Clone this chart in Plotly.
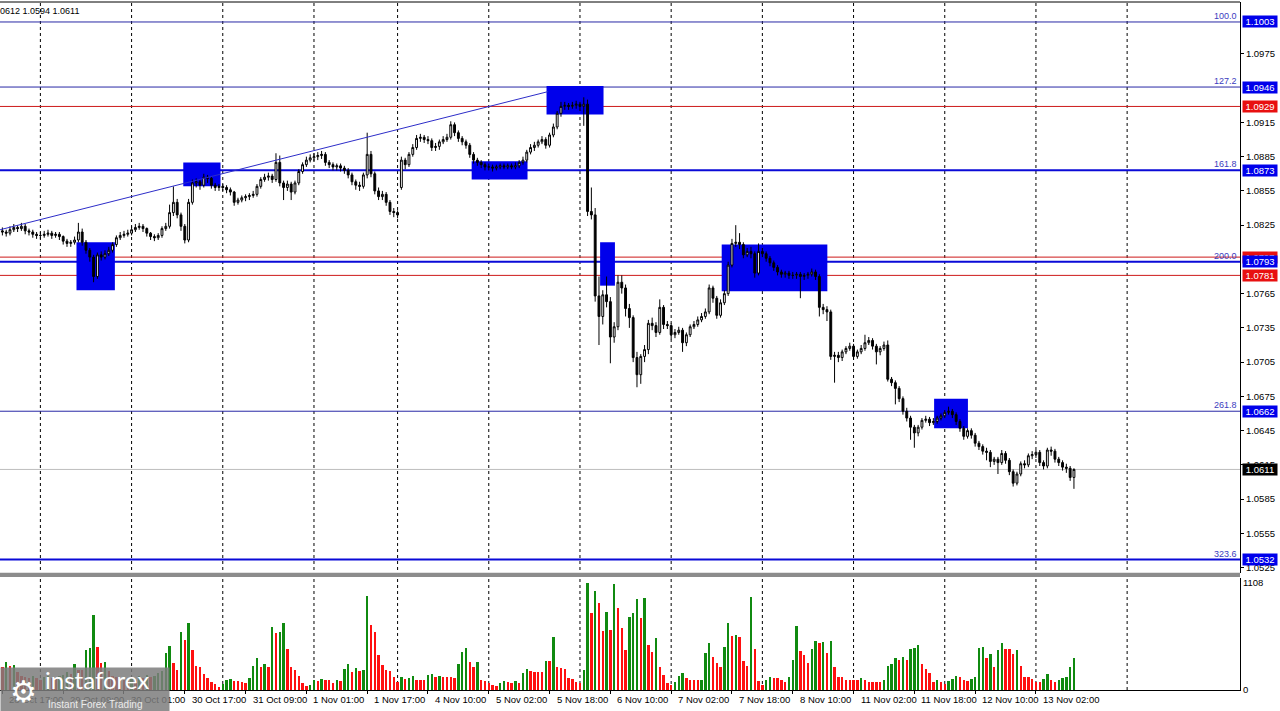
import plotly.graph_objects as go

# ---------------- data (EURUSD H1) ----------------
opens = [
    1.0820, 1.0819, 1.0818, 1.0821, 1.0823, 1.0822, 1.0824, 1.0820, 1.0819, 1.0817,
    1.0816, 1.0816, 1.0817, 1.0818, 1.0816, 1.0817, 1.0815, 1.0811, 1.0809, 1.0810,
    1.0812, 1.0819, 1.0810, 1.0803, 1.0797, 1.0780, 1.0799, 1.0797, 1.0800, 1.0803,
    1.0808, 1.0814, 1.0816, 1.0817, 1.0818, 1.0821, 1.0823, 1.0824, 1.0822, 1.0818,
    1.0815, 1.0814, 1.0816, 1.0822, 1.0824, 1.0836, 1.0845, 1.0834, 1.0824, 1.0812,
    1.0845, 1.0862, 1.0863, 1.0860, 1.0867, 1.0866, 1.0860, 1.0858, 1.0859, 1.0858,
    1.0856, 1.0854, 1.0845, 1.0847, 1.0849, 1.0850, 1.0851, 1.0852, 1.0859, 1.0865,
    1.0867, 1.0868, 1.0865, 1.0880, 1.0862, 1.0858, 1.0861, 1.0854, 1.0862, 1.0872,
    1.0878, 1.0882, 1.0884, 1.0885, 1.0886, 1.0887, 1.0880, 1.0878, 1.0876, 1.0877,
    1.0875, 1.0873, 1.0869, 1.0863, 1.0860, 1.0859, 1.0869, 1.0887, 1.0870, 1.0855,
    1.0850, 1.0852, 1.0845, 1.0837, 1.0836, 1.0858, 1.0882, 1.0878, 1.0887, 1.0893,
    1.0901, 1.0902, 1.0900, 1.0899, 1.0893, 1.0894, 1.0898, 1.0900, 1.0902, 1.0913,
    1.0906, 1.0901, 1.0898, 1.0895, 1.0887, 1.0882, 1.0880, 1.0878, 1.0876, 1.0876,
    1.0875, 1.0876, 1.0877, 1.0876, 1.0877, 1.0876, 1.0877, 1.0880, 1.0882, 1.0889,
    1.0893, 1.0895, 1.0898, 1.0900, 1.0895, 1.0904, 1.0911, 1.0923, 1.0929, 1.0930,
    1.0929, 1.0930, 1.0931, 1.0929, 1.0931, 1.0837, 1.0834, 1.0763, 1.0745, 1.0764,
    1.0758, 1.0727, 1.0736, 1.0775, 1.0770, 1.0752, 1.0744, 1.0709, 1.0694, 1.0710,
    1.0716, 1.0739, 1.0737, 1.0731, 1.0753, 1.0738, 1.0737, 1.0729, 1.0731, 1.0733,
    1.0722, 1.0729, 1.0736, 1.0738, 1.0742, 1.0745, 1.0749, 1.0770, 1.0761, 1.0746,
    1.0757, 1.0765, 1.0790, 1.0809, 1.0810, 1.0808, 1.0799, 1.0802, 1.0800, 1.0783,
    1.0802, 1.0800, 1.0796, 1.0792, 1.0788, 1.0784, 1.0782, 1.0783, 1.0781, 1.0781,
    1.0782, 1.0780, 1.0781, 1.0782, 1.0784, 1.0780, 1.0753, 1.0751, 1.0749, 1.0710,
    1.0711, 1.0709, 1.0714, 1.0717, 1.0719, 1.0710, 1.0714, 1.0717, 1.0722, 1.0724,
    1.0719, 1.0714, 1.0717, 1.0720, 1.0690, 1.0687, 1.0682, 1.0673, 1.0662, 1.0656,
    1.0648, 1.0643, 1.0648, 1.0654, 1.0655, 1.0652, 1.0653, 1.0656, 1.0658, 1.0661,
    1.0662, 1.0659, 1.0653, 1.0647, 1.0640, 1.0645, 1.0641, 1.0634, 1.0631, 1.0627,
    1.0626, 1.0618, 1.0620, 1.0617, 1.0625, 1.0619, 1.0609, 1.0599, 1.0607, 1.0616,
    1.0615, 1.0623, 1.0624, 1.0626, 1.0617, 1.0614, 1.0628, 1.0627, 1.0620, 1.0617,
    1.0613, 1.0612, 1.0604,
]
highs = [
    1.0823, 1.0821, 1.0824, 1.0826, 1.0825, 1.0827, 1.0826, 1.0822, 1.0821, 1.0819,
    1.0819, 1.0820, 1.0821, 1.0820, 1.0819, 1.0819, 1.0816, 1.0813, 1.0812, 1.0815,
    1.0827, 1.0822, 1.0812, 1.0805, 1.0799, 1.0801, 1.0802, 1.0803, 1.0806, 1.0810,
    1.0816, 1.0819, 1.0820, 1.0821, 1.0824, 1.0826, 1.0827, 1.0826, 1.0823, 1.0819,
    1.0817, 1.0818, 1.0824, 1.0827, 1.0843, 1.0859, 1.0848, 1.0836, 1.0826, 1.0848,
    1.0865, 1.0866, 1.0865, 1.0870, 1.0869, 1.0868, 1.0862, 1.0861, 1.0861, 1.0860,
    1.0858, 1.0855, 1.0849, 1.0851, 1.0852, 1.0853, 1.0855, 1.0861, 1.0867, 1.0870,
    1.0871, 1.0870, 1.0888, 1.0886, 1.0864, 1.0864, 1.0863, 1.0864, 1.0874, 1.0880,
    1.0885, 1.0887, 1.0888, 1.0889, 1.0890, 1.0889, 1.0882, 1.0880, 1.0879, 1.0879,
    1.0877, 1.0875, 1.0871, 1.0865, 1.0863, 1.0871, 1.0906, 1.0890, 1.0872, 1.0858,
    1.0855, 1.0854, 1.0847, 1.0840, 1.0838, 1.0885, 1.0884, 1.0889, 1.0896, 1.0904,
    1.0905, 1.0904, 1.0903, 1.0901, 1.0897, 1.0900, 1.0903, 1.0905, 1.0916, 1.0915,
    1.0908, 1.0903, 1.0900, 1.0897, 1.0889, 1.0884, 1.0882, 1.0880, 1.0879, 1.0878,
    1.0878, 1.0879, 1.0879, 1.0879, 1.0879, 1.0880, 1.0882, 1.0885, 1.0891, 1.0896,
    1.0898, 1.0900, 1.0903, 1.0902, 1.0906, 1.0914, 1.0925, 1.0933, 1.0933, 1.0932,
    1.0933, 1.0934, 1.0933, 1.0937, 1.0935, 1.0858, 1.0840, 1.0780, 1.0768, 1.0780,
    1.0762, 1.0740, 1.0781, 1.0781, 1.0773, 1.0756, 1.0746, 1.0714, 1.0712, 1.0720,
    1.0742, 1.0744, 1.0740, 1.0760, 1.0755, 1.0741, 1.0739, 1.0734, 1.0736, 1.0735,
    1.0731, 1.0738, 1.0741, 1.0745, 1.0748, 1.0752, 1.0773, 1.0772, 1.0763, 1.0760,
    1.0768, 1.0793, 1.0813, 1.0825, 1.0818, 1.0810, 1.0805, 1.0806, 1.0802, 1.0809,
    1.0805, 1.0802, 1.0798, 1.0794, 1.0790, 1.0786, 1.0785, 1.0785, 1.0784, 1.0784,
    1.0784, 1.0783, 1.0784, 1.0787, 1.0786, 1.0782, 1.0756, 1.0754, 1.0751, 1.0714,
    1.0714, 1.0716, 1.0719, 1.0722, 1.0721, 1.0716, 1.0720, 1.0729, 1.0727, 1.0726,
    1.0721, 1.0719, 1.0723, 1.0724, 1.0692, 1.0689, 1.0684, 1.0675, 1.0665, 1.0658,
    1.0650, 1.0650, 1.0656, 1.0658, 1.0657, 1.0656, 1.0658, 1.0660, 1.0663, 1.0666,
    1.0664, 1.0661, 1.0655, 1.0649, 1.0647, 1.0647, 1.0643, 1.0636, 1.0633, 1.0630,
    1.0628, 1.0622, 1.0622, 1.0628, 1.0627, 1.0621, 1.0611, 1.0609, 1.0618, 1.0619,
    1.0625, 1.0627, 1.0628, 1.0628, 1.0619, 1.0630, 1.0631, 1.0629, 1.0622, 1.0619,
    1.0616, 1.0614, 1.0612,
]
lows = [
    1.0816, 1.0815, 1.0816, 1.0819, 1.0819, 1.0820, 1.0817, 1.0816, 1.0814, 1.0813,
    1.0813, 1.0814, 1.0815, 1.0813, 1.0814, 1.0812, 1.0808, 1.0806, 1.0806, 1.0808,
    1.0810, 1.0807, 1.0800, 1.0793, 1.0775, 1.0778, 1.0794, 1.0795, 1.0798, 1.0801,
    1.0806, 1.0812, 1.0814, 1.0815, 1.0816, 1.0819, 1.0821, 1.0819, 1.0815, 1.0812,
    1.0811, 1.0812, 1.0814, 1.0820, 1.0822, 1.0833, 1.0831, 1.0820, 1.0809, 1.0810,
    1.0843, 1.0858, 1.0856, 1.0858, 1.0862, 1.0857, 1.0855, 1.0855, 1.0855, 1.0853,
    1.0851, 1.0842, 1.0843, 1.0845, 1.0846, 1.0847, 1.0849, 1.0850, 1.0857, 1.0863,
    1.0864, 1.0862, 1.0863, 1.0859, 1.0847, 1.0855, 1.0847, 1.0852, 1.0860, 1.0870,
    1.0876, 1.0880, 1.0881, 1.0882, 1.0883, 1.0877, 1.0875, 1.0873, 1.0873, 1.0872,
    1.0870, 1.0866, 1.0860, 1.0856, 1.0855, 1.0857, 1.0866, 1.0867, 1.0852, 1.0847,
    1.0847, 1.0842, 1.0834, 1.0832, 1.0831, 1.0856, 1.0874, 1.0876, 1.0885, 1.0891,
    1.0898, 1.0897, 1.0896, 1.0890, 1.0890, 1.0891, 1.0896, 1.0898, 1.0900, 1.0903,
    1.0898, 1.0895, 1.0892, 1.0884, 1.0879, 1.0877, 1.0875, 1.0873, 1.0873, 1.0872,
    1.0873, 1.0874, 1.0874, 1.0874, 1.0874, 1.0874, 1.0875, 1.0878, 1.0880, 1.0887,
    1.0890, 1.0893, 1.0896, 1.0892, 1.0893, 1.0902, 1.0909, 1.0920, 1.0926, 1.0926,
    1.0927, 1.0927, 1.0925, 1.0912, 1.0833, 1.0830, 1.0758, 1.0720, 1.0738, 1.0753,
    1.0704, 1.0722, 1.0733, 1.0765, 1.0745, 1.0735, 1.0705, 1.0683, 1.0686, 1.0705,
    1.0712, 1.0733, 1.0727, 1.0729, 1.0734, 1.0734, 1.0725, 1.0726, 1.0729, 1.0714,
    1.0719, 1.0727, 1.0734, 1.0736, 1.0740, 1.0743, 1.0747, 1.0757, 1.0743, 1.0744,
    1.0755, 1.0763, 1.0788, 1.0806, 1.0804, 1.0796, 1.0797, 1.0796, 1.0779, 1.0781,
    1.0797, 1.0793, 1.0789, 1.0785, 1.0781, 1.0779, 1.0779, 1.0778, 1.0778, 1.0778,
    1.0761, 1.0777, 1.0778, 1.0780, 1.0777, 1.0745, 1.0747, 1.0741, 1.0707, 1.0687,
    1.0705, 1.0706, 1.0712, 1.0715, 1.0707, 1.0708, 1.0712, 1.0715, 1.0720, 1.0716,
    1.0703, 1.0711, 1.0715, 1.0688, 1.0684, 1.0668, 1.0670, 1.0659, 1.0653, 1.0637,
    1.0630, 1.0640, 1.0646, 1.0652, 1.0649, 1.0650, 1.0651, 1.0654, 1.0656, 1.0659,
    1.0656, 1.0650, 1.0644, 1.0637, 1.0638, 1.0638, 1.0631, 1.0628, 1.0624, 1.0619,
    1.0613, 1.0615, 1.0607, 1.0615, 1.0616, 1.0606, 1.0596, 1.0597, 1.0605, 1.0612,
    1.0613, 1.0620, 1.0621, 1.0614, 1.0611, 1.0612, 1.0623, 1.0617, 1.0614, 1.0610,
    1.0608, 1.0601, 1.0594,
]
closes = [
    1.0819, 1.0818, 1.0821, 1.0823, 1.0822, 1.0824, 1.0820, 1.0819, 1.0817, 1.0816,
    1.0816, 1.0817, 1.0818, 1.0816, 1.0817, 1.0815, 1.0811, 1.0809, 1.0810, 1.0812,
    1.0819, 1.0810, 1.0803, 1.0797, 1.0780, 1.0799, 1.0797, 1.0800, 1.0803, 1.0808,
    1.0814, 1.0816, 1.0817, 1.0818, 1.0821, 1.0823, 1.0824, 1.0822, 1.0818, 1.0815,
    1.0814, 1.0816, 1.0822, 1.0824, 1.0836, 1.0845, 1.0834, 1.0824, 1.0812, 1.0845,
    1.0862, 1.0863, 1.0860, 1.0867, 1.0866, 1.0860, 1.0858, 1.0859, 1.0858, 1.0856,
    1.0854, 1.0845, 1.0847, 1.0849, 1.0850, 1.0851, 1.0852, 1.0859, 1.0865, 1.0867,
    1.0868, 1.0865, 1.0880, 1.0862, 1.0858, 1.0861, 1.0854, 1.0862, 1.0872, 1.0878,
    1.0882, 1.0884, 1.0885, 1.0886, 1.0887, 1.0880, 1.0878, 1.0876, 1.0877, 1.0875,
    1.0873, 1.0869, 1.0863, 1.0860, 1.0859, 1.0869, 1.0887, 1.0870, 1.0855, 1.0850,
    1.0852, 1.0845, 1.0837, 1.0836, 1.0834, 1.0882, 1.0878, 1.0887, 1.0893, 1.0901,
    1.0902, 1.0900, 1.0899, 1.0893, 1.0894, 1.0898, 1.0900, 1.0902, 1.0913, 1.0906,
    1.0901, 1.0898, 1.0895, 1.0887, 1.0882, 1.0880, 1.0878, 1.0876, 1.0876, 1.0875,
    1.0876, 1.0877, 1.0876, 1.0877, 1.0876, 1.0877, 1.0880, 1.0882, 1.0889, 1.0893,
    1.0895, 1.0898, 1.0900, 1.0895, 1.0904, 1.0911, 1.0923, 1.0929, 1.0930, 1.0929,
    1.0930, 1.0931, 1.0929, 1.0931, 1.0837, 1.0834, 1.0763, 1.0745, 1.0764, 1.0758,
    1.0727, 1.0736, 1.0775, 1.0770, 1.0752, 1.0744, 1.0709, 1.0694, 1.0710, 1.0716,
    1.0739, 1.0737, 1.0731, 1.0753, 1.0738, 1.0737, 1.0729, 1.0731, 1.0733, 1.0722,
    1.0729, 1.0736, 1.0738, 1.0742, 1.0745, 1.0749, 1.0770, 1.0761, 1.0746, 1.0757,
    1.0765, 1.0790, 1.0809, 1.0810, 1.0808, 1.0799, 1.0802, 1.0800, 1.0783, 1.0802,
    1.0800, 1.0796, 1.0792, 1.0788, 1.0784, 1.0782, 1.0783, 1.0781, 1.0781, 1.0782,
    1.0780, 1.0781, 1.0782, 1.0784, 1.0780, 1.0753, 1.0751, 1.0749, 1.0710, 1.0711,
    1.0709, 1.0714, 1.0717, 1.0719, 1.0710, 1.0714, 1.0717, 1.0722, 1.0724, 1.0719,
    1.0714, 1.0717, 1.0720, 1.0690, 1.0687, 1.0682, 1.0673, 1.0662, 1.0656, 1.0648,
    1.0643, 1.0648, 1.0654, 1.0655, 1.0652, 1.0653, 1.0656, 1.0658, 1.0661, 1.0662,
    1.0659, 1.0653, 1.0647, 1.0640, 1.0645, 1.0641, 1.0634, 1.0631, 1.0627, 1.0626,
    1.0618, 1.0620, 1.0617, 1.0625, 1.0619, 1.0609, 1.0599, 1.0607, 1.0616, 1.0615,
    1.0623, 1.0624, 1.0626, 1.0617, 1.0614, 1.0628, 1.0627, 1.0620, 1.0617, 1.0613,
    1.0612, 1.0604, 1.0611,
]
volumes = [
    240, 290, 245, 260, 190, 150, 130, 120, 140, 120,
    100, 130, 150, 120, 110, 140, 160, 190, 170, 265,
    210, 205, 410, 430, 780, 450, 280, 290, 200, 150,
    130, 110, 100, 90, 120, 100, 140, 120, 160, 130,
    150, 180, 200, 380, 455, 283, 207, 604, 518, 690,
    414, 252, 240, 166, 121, 86, 59, 35, 59, 104,
    117, 97, 93, 80, 69, 121, 252, 328, 241, 266,
    241, 655, 587, 597, 690, 421, 235, 207, 145, 76,
    41, 52, 104, 93, 114, 104, 104, 69, 104, 93,
    217, 269, 190, 224, 200, 210, 973, 673, 604, 362,
    259, 207, 200, 131, 86, 131, 114, 128, 145, 104,
    104, 104, 155, 166, 138, 145, 138, 138, 131, 121,
    266, 397, 438, 293, 241, 293, 104, 93, 69, 52,
    45, 69, 93, 80, 76, 93, 76, 179, 214, 197,
    190, 190, 190, 304, 304, 552, 241, 231, 214, 121,
    114, 86, 76, 207, 1108, 794, 1025, 897, 611, 804,
    621, 1094, 845, 638, 414, 759, 800, 938, 742, 949,
    466, 397, 535, 241, 155, 69, 52, 86, 145, 172,
    121, 104, 104, 100, 104, 380, 490, 338, 283, 235,
    442, 697, 559, 569, 545, 304, 248, 959, 424, 93,
    52, 104, 131, 125, 121, 104, 86, 138, 311, 666,
    404, 362, 283, 428, 511, 483, 500, 386, 511, 241,
    138, 131, 104, 104, 104, 104, 121, 104, 86, 86,
    86, 86, 104, 248, 266, 328, 311, 338, 311, 421,
    431, 466, 266, 214, 172, 86, 104, 86, 59, 93,
    110, 145, 138, 104, 97, 110, 131, 431, 449, 328,
    373, 241, 414, 490, 421, 421, 373, 414, 248, 138,
    131, 110, 86, 86, 110, 162, 104, 86, 104, 121,
    138, 235, 335,
]
bar_index = list(range(len(closes)))

time_tick_index = [0, 16, 32, 48, 64, 80, 96, 112, 128, 144, 160, 176, 192, 208, 224, 240, 256, 272]
time_tick_labels = ["28 Oct 17:00", "29 Oct 09:00", "30 Oct 01:00", "30 Oct 17:00", "31 Oct 09:00",
                    "1 Nov 01:00", "1 Nov 17:00", "4 Nov 10:00", "5 Nov 02:00", "5 Nov 18:00",
                    "6 Nov 10:00", "7 Nov 02:00", "7 Nov 18:00", "8 Nov 10:00", "11 Nov 02:00",
                    "11 Nov 18:00", "12 Nov 10:00", "13 Nov 02:00"]
grid_index = [10, 34, 58, 82, 104, 128, 152, 176, 200, 224, 248, 272, 296]

# price-scale labels that are not fully covered by the level boxes
price_ticks = [1.0525, 1.0555, 1.0585, 1.0615, 1.0645, 1.0675, 1.0705, 1.0735, 1.0765,
               1.0825, 1.0855, 1.0885, 1.0915, 1.0975]
volume_ticks = [0, 1108]

fib_levels = [1.1003, 1.0946, 1.0873, 1.0793, 1.0662, 1.0532]
fib_names = ["100.0", "127.2", "161.8", "200.0", "261.8", "323.6"]
fib_thick = [False, False, True, True, False, True]
red_levels = [1.0929, 1.0797, 1.0781]
current_price = 1.0611

zone_x0 = [19.5, 47.6, 123.5, 143.2, 157.3, 189.3, 245.2]
zone_x1 = [29.6, 57.4, 138.2, 158.2, 161.2, 217.1, 254.1]
zone_lo = [1.0768, 1.0859, 1.0865, 1.0922, 1.0772, 1.0767, 1.0647]
zone_hi = [1.0810, 1.0880, 1.0881, 1.0947, 1.0810, 1.0808, 1.0673]

trend_x = [-0.6, 143.6]
trend_y = [1.0821, 1.0942]

header_text = "0612 1.0594 1.0611"

# ---------------- styles ----------------
FONT = "Liberation Sans"
NAVY = "rgb(40,40,165)"
BLUE = "rgb(10,10,215)"
RED = "rgb(205,25,25)"
BOX_BLUE = "rgb(0,0,235)"
BOX_RED = "rgb(232,16,16)"
GREEN_VOL = "#108a10"
RED_VOL = "#ff1010"

vol_colors = [GREEN_VOL if i > 0 and volumes[i] > volumes[i - 1] else RED_VOL
              for i in range(len(volumes))]

fig = go.Figure()

fig.add_trace(go.Scatter(x=trend_x, y=trend_y, mode="lines",
                         line=dict(color="rgb(45,45,200)", width=1),
                         hoverinfo="skip", xaxis="x", yaxis="y"))

fig.add_trace(go.Candlestick(
    x=bar_index, open=opens, high=highs, low=lows, close=closes,
    increasing=dict(line=dict(color="black", width=1), fillcolor="white"),
    decreasing=dict(line=dict(color="black", width=1), fillcolor="black"),
    whiskerwidth=0, hoverinfo="skip", xaxis="x", yaxis="y"))

fig.add_trace(go.Bar(x=bar_index, y=volumes, marker=dict(color=vol_colors, line=dict(width=0)),
                     width=0.65, hoverinfo="skip", xaxis="x", yaxis="y2"))

shapes = []
for x0, x1, lo, hi in zip(zone_x0, zone_x1, zone_lo, zone_hi):
    shapes.append(dict(type="rect", xref="x", yref="y", x0=x0, x1=x1, y0=lo, y1=hi,
                       fillcolor=BOX_BLUE, line=dict(width=0), layer="below"))
for g in grid_index:
    shapes.append(dict(type="line", xref="x", yref="paper", x0=g, x1=g, y0=0, y1=1,
                       line=dict(color="black", width=1, dash="3px,3px"), layer="below"))
shapes.append(dict(type="line", xref="paper", yref="y", x0=0, x1=1, y0=current_price, y1=current_price,
                   line=dict(color="rgb(190,190,190)", width=1), layer="below"))
for lv in red_levels:
    shapes.append(dict(type="line", xref="paper", yref="y", x0=0, x1=1, y0=lv, y1=lv,
                       line=dict(color=RED, width=1), layer="below"))
for lv, thick in zip(fib_levels, fib_thick):
    shapes.append(dict(type="line", xref="paper", yref="y", x0=0, x1=1, y0=lv, y1=lv,
                       line=dict(color=BLUE if thick else NAVY, width=2 if thick else 1), layer="below"))
shapes.append(dict(type="line", xref="paper", yref="paper", x0=0, x1=1, y0=1, y1=1,
                   line=dict(color="black", width=1)))
shapes.append(dict(type="rect", xref="paper", yref="paper", x0=0, x1=1, y0=0.1642, y1=0.1706,
                   fillcolor="rgb(140,140,140)", line=dict(width=0)))

annotations = []
for lv, name in zip(fib_levels, fib_names):
    annotations.append(dict(xref="paper", yref="y", x=1, y=lv, xanchor="right", yanchor="bottom",
                            xshift=-1, yshift=-1, text=name, showarrow=False,
                            font=dict(family=FONT, size=9, color="rgb(60,60,190)")))
price_boxes = [(1.1003, BOX_BLUE), (1.0946, BOX_BLUE), (1.0929, BOX_RED), (1.0873, BOX_BLUE),
               (1.0797, BOX_RED), (1.0793, BOX_BLUE), (1.0781, BOX_RED), (1.0662, BOX_BLUE),
               (current_price, "black"), (1.0532, BOX_BLUE)]
for p, c in price_boxes:
    annotations.append(dict(xref="paper", yref="y", x=1, y=p, xanchor="left", yanchor="middle",
                            xshift=2, text=f"{p:.4f}", showarrow=False, bgcolor=c,
                            width=34, height=11, borderpad=0, align="center",
                            font=dict(family=FONT, size=9.5, color="white")))
for idx, lab in zip(time_tick_index, time_tick_labels):
    annotations.append(dict(xref="x", yref="paper", x=idx, y=-0.0145, xanchor="left", yanchor="middle",
                            xshift=5, text=lab, showarrow=False,
                            font=dict(family=FONT, size=9.5, color="black")))
annotations.append(dict(xref="paper", yref="paper", x=0, y=0.9869, xanchor="left", yanchor="middle",
                        text=header_text, showarrow=False, xshift=-2,
                        font=dict(family=FONT, size=9, color="black")))
# watermark logo
annotations.append(dict(xref="paper", yref="paper", x=0, y=0.0007, xanchor="left", yanchor="middle",
                        text=" ", showarrow=False, width=168, height=43, borderpad=0,
                        bgcolor="rgba(125,125,125,0.85)"))
annotations.append(dict(xref="paper", yref="paper", x=23 / 1240, y=-0.002, xanchor="center", yanchor="middle",
                        text="⚙", showarrow=False, font=dict(family="DejaVu Sans", size=30, color="white")))
annotations.append(dict(xref="paper", yref="paper", x=44 / 1240, y=0.0155, xanchor="left", yanchor="middle",
                        text="instaforex", showarrow=False, borderpad=0,
                        font=dict(family="Lato", size=24, color="white")))
annotations.append(dict(xref="paper", yref="paper", x=47 / 1240, y=-0.0215, xanchor="left", yanchor="middle",
                        text="Instant Forex Trading", showarrow=False, borderpad=0,
                        font=dict(family=FONT, size=10, color="rgb(235,235,235)")))

fig.update_layout(
    width=1280, height=711,
    margin=dict(l=0, r=40, t=2, b=21),
    paper_bgcolor="white", plot_bgcolor="white",
    showlegend=False, bargap=0,
    xaxis=dict(domain=[0, 1], range=[-0.63, 325.7], anchor="y2", showgrid=False, zeroline=False,
               showline=True, linecolor="black", linewidth=1, ticks="outside", ticklen=3,
               tickcolor="black", tickvals=time_tick_index, showticklabels=False,
               rangeslider=dict(visible=False), fixedrange=True),
    yaxis=dict(domain=[0.1706, 1], range=[1.05206, 1.10205], side="right", anchor="x",
               showgrid=False, zeroline=False, showline=True, linecolor="black", linewidth=1,
               ticks="outside", ticklen=3, tickcolor="black", tickvals=price_ticks,
               tickformat=".4f", tickfont=dict(family=FONT, size=9.5, color="black")),
    yaxis2=dict(domain=[0, 0.1628], range=[0, 1160], side="right", anchor="x",
                showgrid=False, zeroline=False, showline=True, linecolor="black", linewidth=1,
                ticks="", tickvals=volume_ticks, ticktext=[str(v) for v in volume_ticks],
                tickfont=dict(family=FONT, size=9.5, color="black")),
    shapes=shapes,
    annotations=annotations,
)

fig.write_html("out.html", config={"displayModeBar": False},
               post_script="document.body.style.margin='0';document.body.style.overflow='hidden';")
